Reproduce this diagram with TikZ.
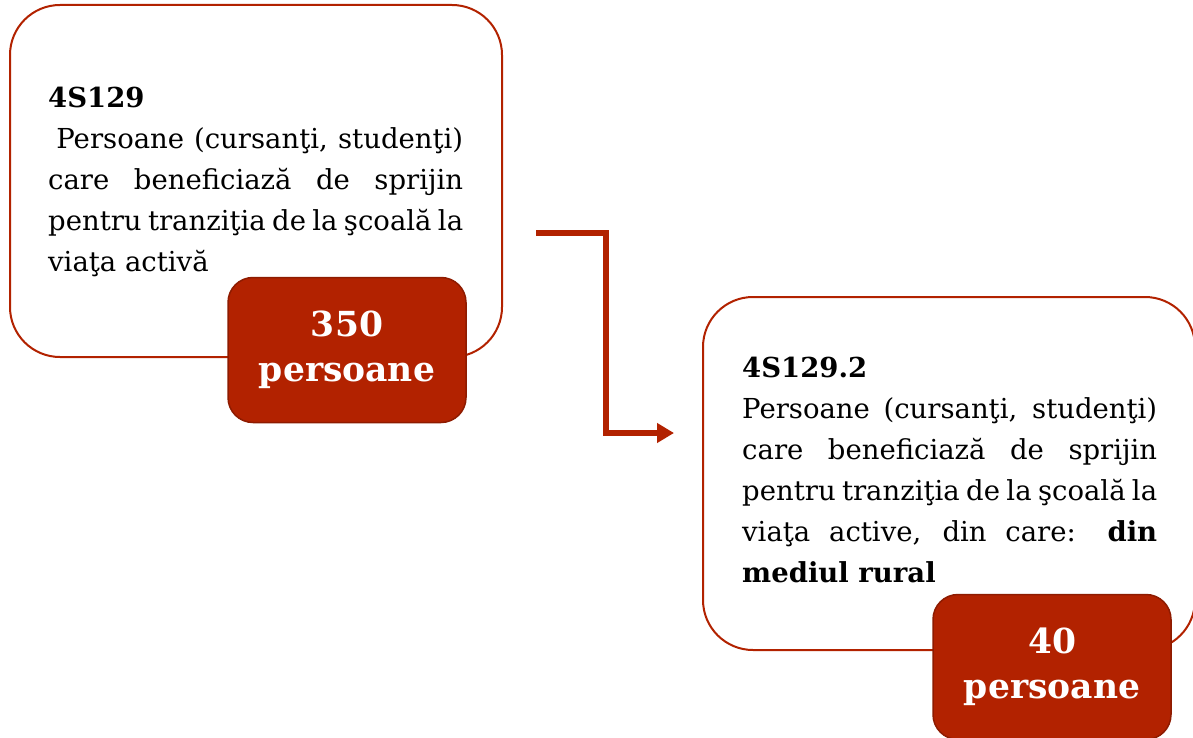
\documentclass[tikz,border=0pt]{standalone}
\usepackage{fontspec}
\setmainfont{DejaVu Serif}
\usepackage[svgnames]{xcolor}
\usetikzlibrary{arrows.meta}
\definecolor{BoxRed}{HTML}{B22200}
\definecolor{BoxRedDark}{HTML}{8E1B00}

\begin{document}
\begin{tikzpicture}[x=1pt,y=-1pt,
    bigbox/.style={draw=BoxRed, line width=2pt, fill=white, rounded corners=50pt, inner sep=0pt},
    numbox/.style={draw=BoxRedDark, line width=1.5pt, fill=BoxRed, rounded corners=25pt,
      minimum width=238pt, minimum height=145pt, inner sep=0pt, text=White, align=center,
      font=\fontsize{34.5}{45}\selectfont\bfseries},
    bodytext/.style={anchor=base west, inner sep=0pt, text width=415pt, align=justify,
      font=\fontsize{27.5}{41}\selectfont},
    flow/.style={draw=BoxRed, line width=6pt, -{Triangle[length=17pt,width=19pt]}}]
		\useasboundingbox (0,0) rectangle (1193,738);
		\clip (0,0) rectangle (1193,738);
		% first indicator
		\node[bigbox, minimum width=492pt, minimum height=352pt] (boxA) at (256,181) {};
		\node[bodytext] (txtA) at (48,108) {\textbf{4S129}\\
			\hspace*{0.3em}Persoane (cursanţi, studenţi)\linebreak
			care beneficiază de sprijin\linebreak
			pentru tranziţia de la şcoală la\linebreak
			viaţa activă};
		\node[numbox] (numA) at (347,350) {350\\persoane};
		% second indicator
		\node[bigbox, minimum width=492pt, minimum height=353pt] (boxB) at (949,473.5) {};
		\node[bodytext] (txtB) at (742,377) {\textbf{4S129.2}\\
			Persoane (cursanţi, studenţi)\linebreak
			care beneficiază de sprijin\linebreak
			pentru tranziţia de la şcoală la\linebreak
			viaţa active, din care: \textbf{din}\linebreak
			\textbf{mediul rural}};
		\node[numbox] (numB) at (1052,667) {40\\persoane};
		% link
		\coordinate (arrS) at ([xshift=33pt,yshift=-52pt]boxA.east);
		\coordinate (arrE) at ([xshift=-28pt,yshift=40.5pt]boxB.west);
		\draw[flow] (arrS) -- ++(70,0) |- (arrE);
	\end{tikzpicture}
\end{document}
